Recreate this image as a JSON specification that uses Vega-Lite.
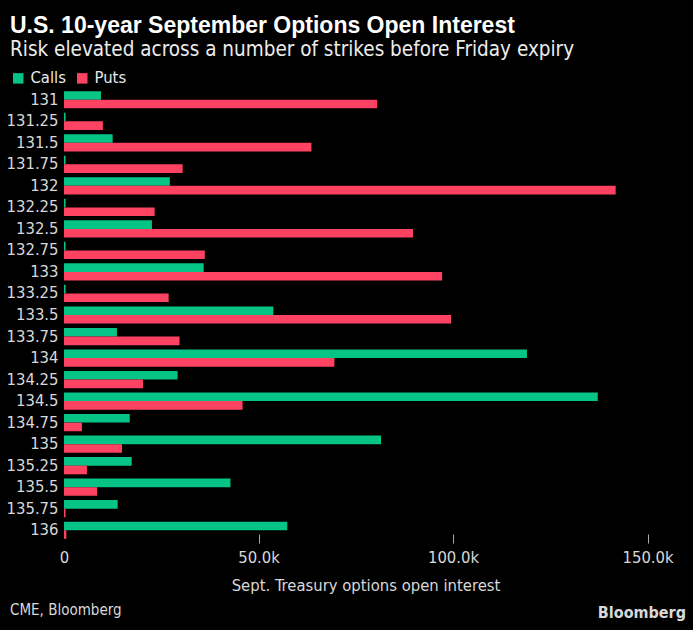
{
  "$schema": "https://vega.github.io/schema/vega-lite/v6.json",
  "width": 603,
  "height": 452,
  "autosize": {"type": "none"},
  "padding": {"left": 64, "top": 89, "right": 26, "bottom": 89},
  "background": "#000000",
  "config": {"view": {"stroke": null}},
  "title": {
    "text": "U.S. 10-year September Options Open Interest",
    "subtitle": "Risk elevated across a number of strikes before Friday expiry",
    "anchor": "start",
    "frame": "group",
    "dx": -54,
    "font": "Liberation Sans",
    "fontSize": 23,
    "fontWeight": "bold",
    "color": "#ffffff",
    "subtitleFont": "'DejaVu Sans Condensed', 'Liberation Sans', sans-serif",
    "subtitleFontSize": 20.5,
    "subtitleColor": "#ececec",
    "subtitlePadding": 2,
    "offset": 10
  },
  "layer": [
    {
      "data": {
        "values": [
          {"strike": "131", "type": "Calls", "value": 9500},
          {"strike": "131", "type": "Puts", "value": 80500},
          {"strike": "131.25", "type": "Calls", "value": 400},
          {"strike": "131.25", "type": "Puts", "value": 10000},
          {"strike": "131.5", "type": "Calls", "value": 12500},
          {"strike": "131.5", "type": "Puts", "value": 63600},
          {"strike": "131.75", "type": "Calls", "value": 400},
          {"strike": "131.75", "type": "Puts", "value": 30500},
          {"strike": "132", "type": "Calls", "value": 27200},
          {"strike": "132", "type": "Puts", "value": 141800},
          {"strike": "132.25", "type": "Calls", "value": 400},
          {"strike": "132.25", "type": "Puts", "value": 23300},
          {"strike": "132.5", "type": "Calls", "value": 22600},
          {"strike": "132.5", "type": "Puts", "value": 89700},
          {"strike": "132.75", "type": "Calls", "value": 400},
          {"strike": "132.75", "type": "Puts", "value": 36200},
          {"strike": "133", "type": "Calls", "value": 35900},
          {"strike": "133", "type": "Puts", "value": 97200},
          {"strike": "133.25", "type": "Calls", "value": 400},
          {"strike": "133.25", "type": "Puts", "value": 26900},
          {"strike": "133.5", "type": "Calls", "value": 53800},
          {"strike": "133.5", "type": "Puts", "value": 99500},
          {"strike": "133.75", "type": "Calls", "value": 13600},
          {"strike": "133.75", "type": "Puts", "value": 29700},
          {"strike": "134", "type": "Calls", "value": 119000},
          {"strike": "134", "type": "Puts", "value": 69500},
          {"strike": "134.25", "type": "Calls", "value": 29200},
          {"strike": "134.25", "type": "Puts", "value": 20300},
          {"strike": "134.5", "type": "Calls", "value": 137200},
          {"strike": "134.5", "type": "Puts", "value": 45900},
          {"strike": "134.75", "type": "Calls", "value": 16900},
          {"strike": "134.75", "type": "Puts", "value": 4600},
          {"strike": "135", "type": "Calls", "value": 81500},
          {"strike": "135", "type": "Puts", "value": 14900},
          {"strike": "135.25", "type": "Calls", "value": 17400},
          {"strike": "135.25", "type": "Puts", "value": 5900},
          {"strike": "135.5", "type": "Calls", "value": 42800},
          {"strike": "135.5", "type": "Puts", "value": 8500},
          {"strike": "135.75", "type": "Calls", "value": 13800},
          {"strike": "135.75", "type": "Puts", "value": 400},
          {"strike": "136", "type": "Calls", "value": 57400},
          {"strike": "136", "type": "Puts", "value": 600}
        ]
      },
      "mark": {"type": "bar"},
      "encoding": {
        "y": {
          "field": "strike",
          "type": "nominal",
          "sort": ["131", "131.25", "131.5", "131.75", "132", "132.25", "132.5", "132.75", "133", "133.25", "133.5", "133.75", "134", "134.25", "134.5", "134.75", "135", "135.25", "135.5", "135.75", "136"],
          "scale": {"paddingInner": 0.2, "paddingOuter": 0.1},
          "title": null,
          "axis": {
            "domain": false,
            "ticks": false,
            "labelPadding": 6,
            "labelFont": "'DejaVu Sans Condensed', 'Liberation Sans', sans-serif",
            "labelFontSize": 16.5,
            "labelColor": "#d8d8d8"
          }
        },
        "yOffset": {"field": "type", "sort": ["Calls", "Puts"], "scale": {"paddingInner": 0}},
        "x": {
          "field": "value",
          "type": "quantitative",
          "scale": {"domain": [0, 155000]},
          "title": "Sept. Treasury options open interest",
          "axis": {
            "values": [0, 50000, 100000, 150000],
            "labelExpr": "datum.value === 0 ? '0' : format(datum.value / 1000, '.1f') + 'k'",
            "labelFlush": false,
            "domain": false,
            "grid": false,
            "offset": -7,
            "tickSize": 9,
            "tickColor": "#aaaaaa",
            "tickOpacity": {"expr": "datum.value === 0 ? 0 : 1"},
            "labelPadding": 6,
            "labelFont": "'DejaVu Sans Condensed', 'Liberation Sans', sans-serif",
            "labelFontSize": 16.5,
            "labelColor": "#d8d8d8",
            "titleFont": "'DejaVu Sans Condensed', 'Liberation Sans', sans-serif",
            "titleFontSize": 16.5,
            "titleFontWeight": "normal",
            "titleColor": "#d8d8d8",
            "titlePadding": 12
          }
        },
        "color": {
          "field": "type",
          "type": "nominal",
          "scale": {"domain": ["Calls", "Puts"], "range": ["#05c486", "#fe4262"]},
          "legend": {
            "title": null,
            "orient": "none",
            "legendX": -54,
            "legendY": -19,
            "direction": "horizontal",
            "symbolType": "square",
            "symbolSize": 110,
            "symbolStrokeWidth": 0,
            "labelFont": "'DejaVu Sans Condensed', 'Liberation Sans', sans-serif",
            "labelFontSize": 16.5,
            "labelColor": "#e8e8e8",
            "columnPadding": 8,
            "labelOffset": 4
          }
        }
      }
    },
    {
      "data": {"values": [{"t": "CME, Bloomberg"}]},
      "mark": {"type": "text", "align": "left", "baseline": "middle", "font": "'DejaVu Sans Condensed', 'Liberation Sans', sans-serif", "fontSize": 15, "color": "#d8d8d8"},
      "encoding": {"text": {"field": "t"}, "x": {"value": -54}, "y": {"value": 521}}
    },
    {
      "data": {"values": [{"t": "Bloomberg"}]},
      "mark": {"type": "text", "align": "right", "baseline": "middle", "font": "'DejaVu Sans Condensed', 'Liberation Sans', sans-serif", "fontWeight": "bold", "fontSize": 16, "color": "#d8d8d8"},
      "encoding": {"text": {"field": "t"}, "x": {"value": 622}, "y": {"value": 524}}
    }
  ]
}
